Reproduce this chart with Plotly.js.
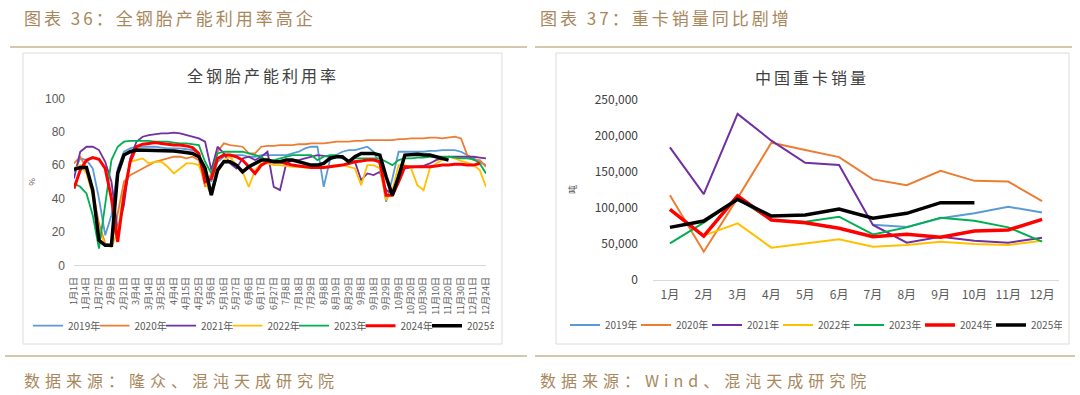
<!DOCTYPE html>
<html><head><meta charset="utf-8">
<script src="https://cdn.plot.ly/plotly-3.0.1.min.js"></script>
<style>html,body{margin:0;padding:0;background:#fff;}#chart{width:1080px;height:395px;}</style>
</head><body><div id="chart"></div>
<script>
// ---------- data ----------
const years = ['2019年','2020年','2021年','2022年','2023年','2024年','2025年'];

// left chart: 全钢胎产能利用率 (%), weekly series
const dateTicks = ['1月1日','1月14日','1月27日','2月9日','2月21日','3月4日','3月14日','3月25日','4月4日','4月15日','4月25日','5月6日','5月16日','5月27日','6月6日','6月17日','6月27日','7月8日','7月18日','7月29日','8月8日','8月19日','8月29日','9月8日','9月18日','9月29日','10月9日','10月20日','10月30日','11月10日','11月20日','11月30日','12月11日','12月24日'];
const util2019 = [56,64,63,58,40, 18,30,58,68,70, 71,71,71,71,70.5, 70,70,70,69.5,69, 67,55,50,62,65, 66,66,66,65,65, 66,66,66,66,66, 67,68,70,71,71, 47,63,66,68,69, 69,70,71,68,60, 38,52,68,68,68, 68,68,68.5,68.5,69, 69,69,68,66,64, 62,60];
const util2020 = [61,65,58,45,25, 13,12,30,50,54, 56,58,60,62,63, 64,65,65,64,65, 63,47,55,68,73, 72,71.5,71,67,67, 71,71.5,71.5,72,72, 72,72.5,72.5,73,73, 73,73.5,74,74,74, 74.5,74.5,75,75,75, 75,75,75.5,75.5,76, 76,76,76.5,76.5,76, 76.5,77,76,66,63, 63,59];
const util2021 = [52,68,71,71,69, 62,50,21,36,64, 74,77,78,78.5,79, 79,79.5,79,78,77, 76,74,57,71,67, 61,58,64,65,63, 65,68,47,45,61, 63,63,64,65,66, 65.5,65,65,64.5,63, 62,51,55,54,56, 45,43,55,58,58.5, 59,59.5,61,63,64, 65,65,65,65,65, 64.5,64];
const util2022 = [58,60,55,42,22, 12,11,20,45,62, 63,64,61,62,62, 59,55,58,61,61, 60,50,42,55,63, 65,60,56,47,57, 61,61,60,60,59.5, 59,59,58.5,58.5,59, 59,59.5,60,60,59, 58,48,60,60,58, 39,45,60,60,58, 48,45,58,61,63, 65,64,62.5,61.5,60, 57,47];
const util2023 = [49,47,43,30,10, 38,63,71,74,74.5, 74.5,74.5,74.5,74,74, 74,73.5,73,73,72.5, 72,62,55,67,68, 68,68,68,67,66, 65,62,63,64,65, 66,66,66,66,63, 65,66,66,64,63, 64,64,64,64,64, 62,60,63,64,64, 64.5,64.5,65,65,65, 65,64.5,64,64,63.5, 61,55];
const util2024 = [46,57,63,64.5,63.5, 58,40,14,42,62, 71,72.5,73,73.5,73, 72.5,72,72,71.5,70.5, 67,50,52,64,66, 66,65,63,59,55, 60,62,62,62,61, 60,59.5,59,58.5,58.5, 58.5,59,59.5,60,61, 62,62.5,63,63,62, 42,42,50,59,59, 59,59,59,59.5,60, 60,60.5,60.5,60,60, 61,null];
const util2025 = [57.5,58.5,58.5,45,15, 12,12,55,66,68, 69,69,69,69,69, 69,68.5,68,67.5,67, 65,58,42,57,62, 62,60,56,59,61, 63,63,62,62,63, 63,62,61,60,60, 61,64,65,65,62, 65,67,67,67,66, 53,42,53,66,66.5, 66.5,66,66,65,64, 63,null,null,null,null, null,null];

// right chart: 中国重卡销量, monthly
const months = ['1月','2月','3月','4月','5月','6月','7月','8月','9月','10月','11月','12月'];
const truck2019 = [null,null,null,null,null,null,76000,73000,85000,92000,101000,93000];
const truck2020 = [117000,38600,113000,190000,180000,170000,139000,131000,151000,137000,136000,109000];
const truck2021 = [183600,118700,230000,192800,162200,159000,75700,51100,59500,53900,51100,58100];
const truck2022 = [null,61000,78000,44200,50300,55800,45600,47900,52500,49300,47900,53900];
const truck2023 = [50200,79000,112000,82600,80300,87200,62700,72400,85900,81700,72400,52500];
const truck2024 = [97500,60400,116000,82600,78900,71100,59500,62700,58600,67400,68700,83600];
const truck2025 = [72400,81200,111300,88200,89600,97900,85000,91900,106700,106700,null,null];

// ---------- styling ----------
const colors = ['#5B9BD5','#ED7D31','#7030A0','#FFC000','#00B050','#FF0000','#000000'];
const widthsL = [1.8,1.8,1.8,1.8,1.8,3,3.5];
const widthsR = [2,2,2,2,2,3.5,3.5];
const W = 1080, H = 395;
const px = v => v / W;
const py = v => 1 - v / H;
const CJK = 'Noto Sans CJK SC';
const gray = '#595959';
const tan = '#A8875C';

const utilSeries = [util2019,util2020,util2021,util2022,util2023,util2024,util2025];
const truckSeries = [truck2019,truck2020,truck2021,truck2022,truck2023,truck2024,truck2025];

const traces = [];
utilSeries.forEach((s, i) => {
  traces.push({
    x: s.map((_, j) => j), y: s, type: 'scatter', mode: 'lines', name: years[i],
    line: {color: colors[i], width: widthsL[i]}, xaxis: 'x', yaxis: 'y',
    legend: 'legend', hoverinfo: 'skip'
  });
});
truckSeries.forEach((s, i) => {
  traces.push({
    x: months, y: s, type: 'scatter', mode: 'lines', name: years[i],
    line: {color: colors[i], width: widthsR[i]}, xaxis: 'x2', yaxis: 'y2',
    legend: 'legend2', hoverinfo: 'skip'
  });
});

const sp = (t, s) => '<span style="letter-spacing:' + s + 'px">' + t + '</span>';
const ann = (text, x, y, size, color, anchor) => ({
  text, x: px(x), y: py(y), xref: 'paper', yref: 'paper', showarrow: false,
  xanchor: anchor, yanchor: 'middle', font: {family: CJK, size, color}
});

const legendBase = {
  orientation: 'h', yanchor: 'middle', xanchor: 'left',
  font: {family: CJK, size: 10, color: gray}, bgcolor: 'rgba(0,0,0,0)',
  itemwidth: 30, entrywidthmode: 'pixels', tracegroupgap: 0
};

const layout = {
  width: W, height: H, margin: {l: 0, r: 0, t: 0, b: 0},
  paper_bgcolor: '#fff', plot_bgcolor: 'rgba(0,0,0,0)', showlegend: true,
  font: {family: CJK, color: gray},
  xaxis: {
    domain: [px(74), px(486)], range: [0, 66], anchor: 'y',
    tickvals: dateTicks.map((_, i) => i * 2), ticktext: dateTicks, tickangle: -90,
    tickfont: {family: CJK, size: 9, color: gray}, ticks: '', ticklabelstandoff: 7,
    showline: true, linecolor: '#d9d9d9', linewidth: 1, showgrid: false, zeroline: false
  },
  yaxis: {
    domain: [py(265.3), py(98.3)], range: [0, 100], dtick: 20, anchor: 'x',
    tickfont: {family: 'Liberation Sans', size: 12, color: gray}, ticks: '', ticklabelstandoff: 8,
    showgrid: false, zeroline: false, showline: false,
    title: {text: '%', font: {family: CJK, size: 8, color: gray}, standoff: 8}
  },
  xaxis2: {
    domain: [px(653), px(1059)], type: 'category', range: [-0.5, 11.5], anchor: 'y2',
    tickfont: {family: CJK, size: 12, color: gray}, ticks: '', ticklabelstandoff: 4,
    showline: true, linecolor: '#d9d9d9', linewidth: 1, showgrid: false, zeroline: false
  },
  yaxis2: {
    domain: [py(279.5), py(99.5)], range: [0, 250000], dtick: 50000, tickformat: ',', anchor: 'x2',
    tickfont: {family: CJK, size: 12, color: '#404040'}, ticks: '', ticklabelstandoff: 14,
    showgrid: false, zeroline: false, showline: false,
    title: {text: '吨', font: {family: CJK, size: 9, color: gray}, standoff: 16}
  },
  legend: Object.assign({}, legendBase, {x: px(28), y: py(325.7), entrywidth: 21.5}),
  legend2: Object.assign({}, legendBase, {x: px(565), y: py(325), entrywidth: 26}),
  shapes: [
    {type: 'rect', xref: 'paper', yref: 'paper', x0: px(23), x1: px(502), y0: py(344), y1: py(53), line: {color: '#dcdcdc', width: 1}, layer: 'below'},
    {type: 'rect', xref: 'paper', yref: 'paper', x0: px(556), x1: px(1069), y0: py(344), y1: py(53), line: {color: '#dcdcdc', width: 1}, layer: 'below'},
    {type: 'line', xref: 'paper', yref: 'paper', x0: px(10), x1: px(527), y0: py(47), y1: py(47), line: {color: '#D5C7AC', width: 2}},
    {type: 'line', xref: 'paper', yref: 'paper', x0: px(535), x1: px(1072), y0: py(47), y1: py(47), line: {color: '#D5C7AC', width: 2}},
    {type: 'line', xref: 'paper', yref: 'paper', x0: px(5), x1: px(527), y0: py(356), y1: py(356), line: {color: '#D5C7AC', width: 2}},
    {type: 'line', xref: 'paper', yref: 'paper', x0: px(535), x1: px(1075), y0: py(356), y1: py(356), line: {color: '#D5C7AC', width: 2}}
  ],
  annotations: [
    ann(sp('图表 36：全钢胎产能利用率高企', 3), 22, 17, 17, tan, 'left'),
    ann(sp('图表 37：重卡销量同比剧增', 3), 538, 17, 17, tan, 'left'),
    ann(sp('全钢胎产能利用率', 3), 263, 75, 16, '#404040', 'center'),
    ann(sp('中国重卡销量', 3), 812, 77, 16, '#404040', 'center'),
    ann(sp('数据来源：隆众、混沌天成研究院', 5), 22, 380, 16, tan, 'left'),
    ann(sp('数据来源：Wind、混沌天成研究院', 5), 538, 380, 16, tan, 'left')
  ]
};

Plotly.newPlot('chart', traces, layout, {staticPlot: true, displayModeBar: false});
</script>
</body></html>
